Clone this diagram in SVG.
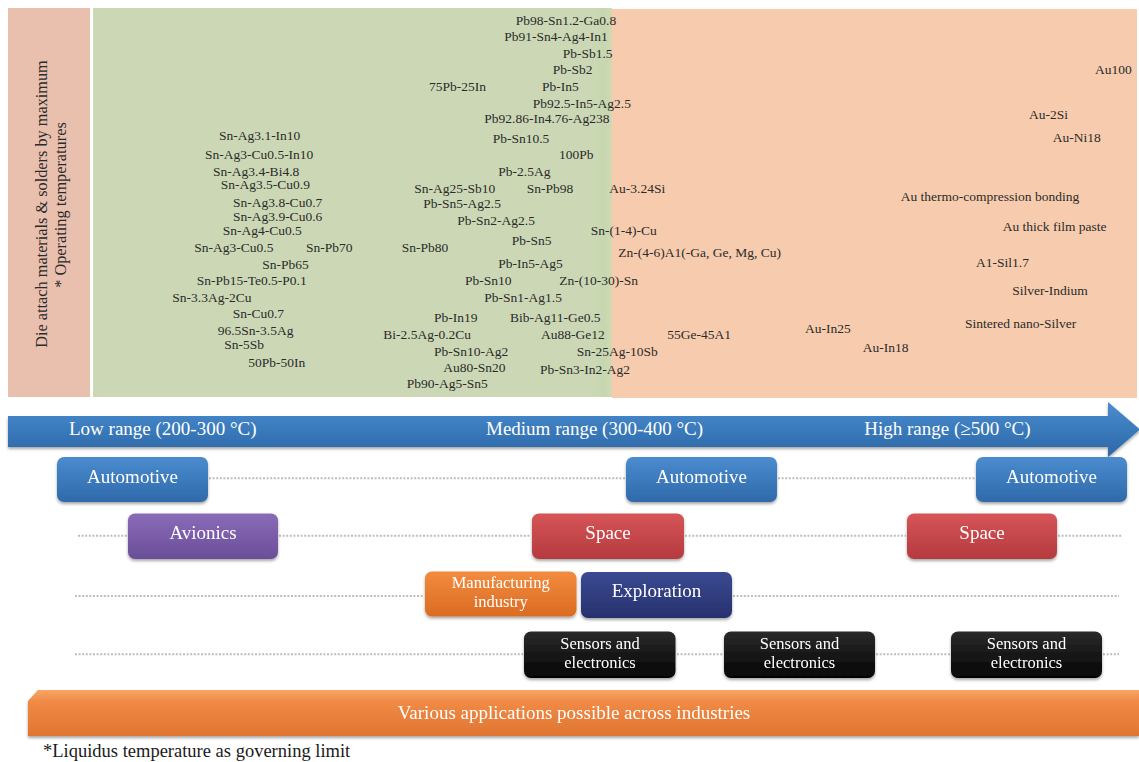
<svg xmlns="http://www.w3.org/2000/svg" width="1139" height="762" viewBox="0 0 1139 762">
<defs>
<style>
.lbl{font-family:"Liberation Serif","Times New Roman",serif;font-size:13.5px;fill:#2b2b2b}
.vt{font-family:"Liberation Serif","Times New Roman",serif;font-size:16.3px;fill:#2b2b2b}
.bt{font-family:"Liberation Serif","Times New Roman",serif;font-size:19px;fill:#ffffff;text-anchor:middle}
.bt2{font-family:"Liberation Serif","Times New Roman",serif;font-size:16.5px;fill:#ffffff;text-anchor:middle}
.at{font-family:"Liberation Serif","Times New Roman",serif;font-size:19px;fill:#ffffff}
.foot{font-family:"Liberation Serif","Times New Roman",serif;font-size:18.5px;fill:#1a1a1a}
.dot{stroke:#bdbdbd;stroke-width:2;stroke-dasharray:2 1.6;fill:none}
.box{filter:url(#sh)}
</style>
<filter id="sh" x="-10%" y="-20%" width="120%" height="150%">
<feDropShadow dx="0" dy="2" stdDeviation="1.6" flood-color="#000" flood-opacity="0.35"/>
</filter>
<linearGradient id="gBlue" x1="0" y1="0" x2="0" y2="1"><stop offset="0" stop-color="#4a8ccf"/><stop offset="1" stop-color="#2f69aa"/></linearGradient>
<linearGradient id="gArrow" x1="0" y1="0" x2="0" y2="1"><stop offset="0" stop-color="#4b8dd0"/><stop offset="0.5" stop-color="#3a7abb"/><stop offset="1" stop-color="#2d66a6"/></linearGradient>
<linearGradient id="gPurple" x1="0" y1="0" x2="0" y2="1"><stop offset="0" stop-color="#8a6bb8"/><stop offset="1" stop-color="#6a4e98"/></linearGradient>
<linearGradient id="gRed" x1="0" y1="0" x2="0" y2="1"><stop offset="0" stop-color="#d65558"/><stop offset="1" stop-color="#b43a3e"/></linearGradient>
<linearGradient id="gOrange" x1="0" y1="0" x2="0" y2="1"><stop offset="0" stop-color="#f28c3f"/><stop offset="1" stop-color="#db6b22"/></linearGradient>
<linearGradient id="gNavy" x1="0" y1="0" x2="0" y2="1"><stop offset="0" stop-color="#3a4a92"/><stop offset="1" stop-color="#27316d"/></linearGradient>
<linearGradient id="gBlack" x1="0" y1="0" x2="0" y2="1"><stop offset="0" stop-color="#2a2a2a"/><stop offset="1" stop-color="#050505"/></linearGradient>
<linearGradient id="gBar" x1="0" y1="0" x2="0" y2="1"><stop offset="0" stop-color="#f7a566"/><stop offset="0.25" stop-color="#f08a45"/><stop offset="1" stop-color="#e07532"/></linearGradient>
<linearGradient id="gEdge" x1="0" y1="0" x2="1" y2="0"><stop offset="0" stop-color="#ccd8b5"/><stop offset="0.6" stop-color="#c6d7b0"/><stop offset="1" stop-color="#d2d8b2"/></linearGradient>
</defs>

<g id="background">
<rect x="8" y="8" width="82" height="389" fill="#e9c0ae"/>
<rect x="93" y="8" width="519" height="389" fill="#ccd8b5"/>
<rect x="592" y="8" width="20" height="389" fill="url(#gEdge)"/>
<rect x="612" y="9" width="525" height="389" fill="#f7cbad"/>
</g>

<g id="axis-title">
<text class="vt" transform="translate(47,204) rotate(-90)" text-anchor="middle">Die attach materials &amp; solders by maximum</text>
<text class="vt" transform="translate(66,205) rotate(-90)" text-anchor="middle">* Operating temperatures</text>
</g>

<g id="low-range-materials">
<text class="lbl" x="219" y="140">Sn-Ag3.1-In10</text>
<text class="lbl" x="205" y="158.7">Sn-Ag3-Cu0.5-In10</text>
<text class="lbl" x="213" y="176">Sn-Ag3.4-Bi4.8</text>
<text class="lbl" x="220.7" y="189.3">Sn-Ag3.5-Cu0.9</text>
<text class="lbl" x="233" y="206.7">Sn-Ag3.8-Cu0.7</text>
<text class="lbl" x="233" y="220.7">Sn-Ag3.9-Cu0.6</text>
<text class="lbl" x="222.7" y="235.3">Sn-Ag4-Cu0.5</text>
<text class="lbl" x="194.3" y="251.7">Sn-Ag3-Cu0.5</text>
<text class="lbl" x="306" y="251.7">Sn-Pb70</text>
<text class="lbl" x="262.3" y="268.7">Sn-Pb65</text>
<text class="lbl" x="196.7" y="285">Sn-Pb15-Te0.5-P0.1</text>
<text class="lbl" x="172.3" y="301.7">Sn-3.3Ag-2Cu</text>
<text class="lbl" x="232.7" y="318.3">Sn-Cu0.7</text>
<text class="lbl" x="217.7" y="335">96.5Sn-3.5Ag</text>
<text class="lbl" x="224.3" y="349">Sn-5Sb</text>
<text class="lbl" x="248.3" y="367.3">50Pb-50In</text>
</g>

<g id="medium-range-materials">
<text class="lbl" x="515.7" y="25">Pb98-Sn1.2-Ga0.8</text>
<text class="lbl" x="504.3" y="40.7">Pb91-Sn4-Ag4-In1</text>
<text class="lbl" x="562.7" y="57.7">Pb-Sb1.5</text>
<text class="lbl" x="552.7" y="74">Pb-Sb2</text>
<text class="lbl" x="429" y="90.7">75Pb-25In</text>
<text class="lbl" x="542" y="90.7">Pb-In5</text>
<text class="lbl" x="532.7" y="107.7">Pb92.5-In5-Ag2.5</text>
<text class="lbl" x="484.3" y="123.3">Pb92.86-In4.76-Ag238</text>
<text class="lbl" x="492.7" y="143.3">Pb-Sn10.5</text>
<text class="lbl" x="559" y="159.3">100Pb</text>
<text class="lbl" x="498.3" y="175.7">Pb-2.5Ag</text>
<text class="lbl" x="414.3" y="192.7">Sn-Ag25-Sb10</text>
<text class="lbl" x="526.7" y="192.7">Sn-Pb98</text>
<text class="lbl" x="609.3" y="192.7">Au-3.24Si</text>
<text class="lbl" x="423.3" y="208.3">Pb-Sn5-Ag2.5</text>
<text class="lbl" x="457.3" y="225">Pb-Sn2-Ag2.5</text>
<text class="lbl" x="590.7" y="235">Sn-(1-4)-Cu</text>
<text class="lbl" x="511.7" y="245">Pb-Sn5</text>
<text class="lbl" x="401.7" y="251.7">Sn-Pb80</text>
<text class="lbl" x="618.3" y="256.7">Zn-(4-6)A1(-Ga, Ge, Mg, Cu)</text>
<text class="lbl" x="498.3" y="268.3">Pb-In5-Ag5</text>
<text class="lbl" x="465" y="285">Pb-Sn10</text>
<text class="lbl" x="559.3" y="285">Zn-(10-30)-Sn</text>
<text class="lbl" x="484.3" y="301.7">Pb-Sn1-Ag1.5</text>
<text class="lbl" x="434" y="322.3">Pb-In19</text>
<text class="lbl" x="510" y="322.3">Bib-Ag11-Ge0.5</text>
<text class="lbl" x="383.3" y="339">Bi-2.5Ag-0.2Cu</text>
<text class="lbl" x="541" y="339">Au88-Ge12</text>
<text class="lbl" x="667.3" y="339">55Ge-45A1</text>
<text class="lbl" x="434" y="355.7">Pb-Sn10-Ag2</text>
<text class="lbl" x="576.7" y="355.7">Sn-25Ag-10Sb</text>
<text class="lbl" x="443.3" y="372.3">Au80-Sn20</text>
<text class="lbl" x="540" y="374">Pb-Sn3-In2-Ag2</text>
<text class="lbl" x="406.7" y="388.3">Pb90-Ag5-Sn5</text>
</g>

<g id="high-range-materials">
<text class="lbl" x="1095" y="74">Au100</text>
<text class="lbl" x="1029" y="119">Au-2Si</text>
<text class="lbl" x="1052.7" y="142.3">Au-Ni18</text>
<text class="lbl" x="900.7" y="201">Au thermo-compression bonding</text>
<text class="lbl" x="1002.7" y="231">Au thick film paste</text>
<text class="lbl" x="976" y="267.3">A1-Sil1.7</text>
<text class="lbl" x="1012.3" y="295">Silver-Indium</text>
<text class="lbl" x="965" y="328.3">Sintered nano-Silver</text>
<text class="lbl" x="805" y="333.3">Au-In25</text>
<text class="lbl" x="862.7" y="352.3">Au-In18</text>
</g>

<g id="temperature-arrow">
<path d="M8,416 L1108,416 L1108,402 L1140,429.5 L1108,457 L1108,447 L8,447 Z" fill="url(#gArrow)" filter="url(#sh)"/>
<text class="at" x="69" y="435">Low range (200-300 °C)</text>
<text class="at" x="486" y="435">Medium range (300-400 °C)</text>
<text class="at" x="864.3" y="435">High range (≥500 °C)</text>
</g>

<g id="connectors">
<line class="dot" x1="209" y1="478.3" x2="625" y2="478.3"/>
<line class="dot" x1="778" y1="478.3" x2="975" y2="478.3"/>
<line class="dot" x1="78" y1="535.7" x2="127" y2="535.7"/>
<line class="dot" x1="279" y1="535.7" x2="531" y2="535.7"/>
<line class="dot" x1="685" y1="535.7" x2="906" y2="535.7"/>
<line class="dot" x1="1058" y1="535.7" x2="1122" y2="535.7"/>
<line class="dot" x1="75" y1="596" x2="424" y2="596"/>
<line class="dot" x1="733" y1="596" x2="1119" y2="596"/>
<line class="dot" x1="75" y1="654.3" x2="523" y2="654.3"/>
<line class="dot" x1="677" y1="654.3" x2="723" y2="654.3"/>
<line class="dot" x1="876" y1="654.3" x2="950" y2="654.3"/>
<line class="dot" x1="1103" y1="654.3" x2="1119" y2="654.3"/>
</g>

<g id="automotive-low" class="box">
<rect x="57" y="457" width="151" height="45" rx="7" fill="url(#gBlue)"/>
<text class="bt" x="132.5" y="483.3">Automotive</text>
</g>
<g id="automotive-medium" class="box">
<rect x="626" y="457" width="151" height="45" rx="7" fill="url(#gBlue)"/>
<text class="bt" x="701.5" y="483.3">Automotive</text>
</g>
<g id="automotive-high" class="box">
<rect x="976" y="457" width="151" height="45" rx="7" fill="url(#gBlue)"/>
<text class="bt" x="1051.5" y="483.3">Automotive</text>
</g>
<g id="avionics" class="box">
<rect x="128" y="513.5" width="150" height="45.5" rx="7" fill="url(#gPurple)"/>
<text class="bt" x="203" y="538.5">Avionics</text>
</g>
<g id="space-medium" class="box">
<rect x="532" y="513.5" width="152" height="45.5" rx="7" fill="url(#gRed)"/>
<text class="bt" x="608" y="538.5">Space</text>
</g>
<g id="space-high" class="box">
<rect x="907" y="513.5" width="150" height="45.5" rx="7" fill="url(#gRed)"/>
<text class="bt" x="982" y="538.5">Space</text>
</g>
<g id="manufacturing" class="box">
<rect x="425" y="571.5" width="151.5" height="45" rx="7" fill="url(#gOrange)"/>
<text class="bt2" x="500.7" y="587.5">Manufacturing</text>
<text class="bt2" x="500.7" y="606.5">industry</text>
</g>
<g id="exploration" class="box">
<rect x="581" y="572" width="151" height="46" rx="7" fill="url(#gNavy)"/>
<text class="bt" x="656.5" y="597.3">Exploration</text>
</g>
<g id="sensors-medium" class="box">
<rect x="524" y="631.5" width="151.5" height="46.5" rx="7" fill="url(#gBlack)"/>
<text class="bt2" x="600" y="648.5">Sensors and</text>
<text class="bt2" x="600" y="667.5">electronics</text>
</g>
<g id="sensors-mid-high" class="box">
<rect x="724" y="631.5" width="151" height="46.5" rx="7" fill="url(#gBlack)"/>
<text class="bt2" x="799.5" y="648.5">Sensors and</text>
<text class="bt2" x="799.5" y="667.5">electronics</text>
</g>
<g id="sensors-high" class="box">
<rect x="951" y="631.5" width="151" height="46.5" rx="7" fill="url(#gBlack)"/>
<text class="bt2" x="1026.5" y="648.5">Sensors and</text>
<text class="bt2" x="1026.5" y="667.5">electronics</text>
</g>

<g id="various-applications" class="box">
<path d="M28,701 L38,690 L1139,690 L1139,736 L28,736 Z" fill="url(#gBar)"/>
<text class="bt" x="574" y="719.3">Various applications possible across industries</text>
</g>

<g id="footnote">
<text class="foot" x="43" y="756.5">*Liquidus temperature as governing limit</text>
</g>
</svg>
